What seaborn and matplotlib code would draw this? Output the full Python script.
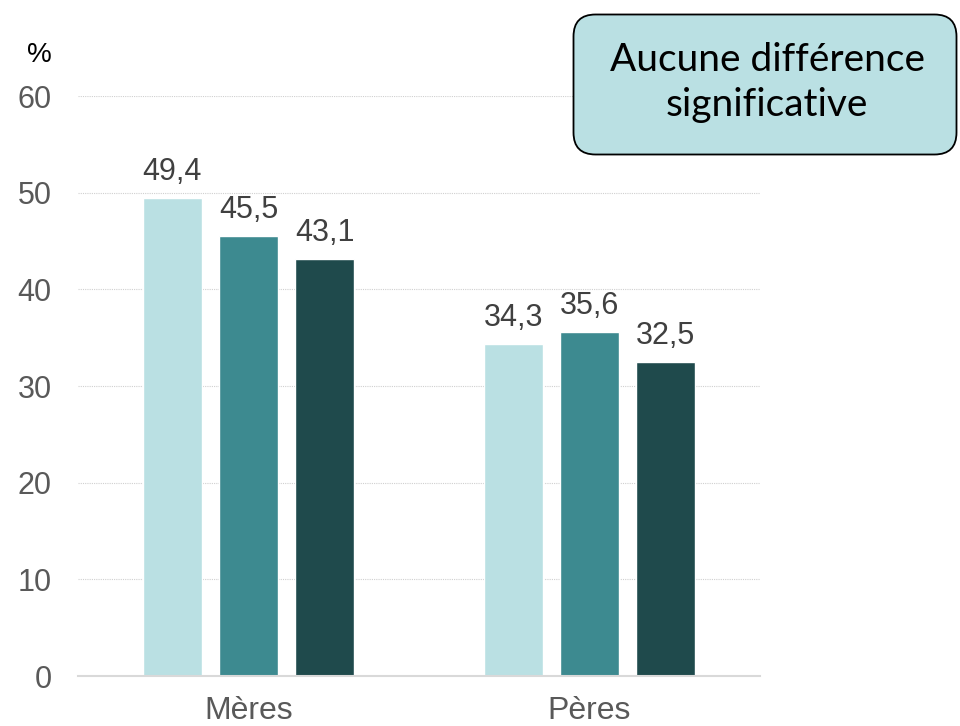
import matplotlib
matplotlib.use("Agg")
import matplotlib.pyplot as plt
from matplotlib.patches import FancyBboxPatch
import seaborn as sns
import pandas as pd

categories = ["Mères", "Pères"]
series = ["Série 1", "Série 2", "Série 3"]
values_s1 = [49.4, 34.3]
values_s2 = [45.5, 35.6]
values_s3 = [43.1, 32.5]
palette = ["#BAE0E3", "#3D8A90", "#1F4A4C"]
y_ticks = [0, 10, 20, 30, 40, 50, 60]
note_text = "Aucune différence\nsignificative"

rows = []
for s, vals in zip(series, [values_s1, values_s2, values_s3]):
    for c, v in zip(categories, vals):
        rows.append({"cat": c, "serie": s, "val": v})
df = pd.DataFrame(rows)

sns.set_theme(style="white")
plt.rcParams["font.family"] = ["Liberation Sans", "DejaVu Sans"]

fig = plt.figure(figsize=(9.6, 7.26), dpi=100)
ax = fig.add_axes([78/960, 1-676/726, (760-78)/960, (676-96)/726])

sns.barplot(data=df, x="cat", y="val", hue="serie", palette=palette,
            width=0.67, gap=0.22, ax=ax, legend=False, saturation=1,
            errorbar=None)

ax.set_ylim(0, 60)
ax.set_xlim(-0.5, 1.5)
ax.set_yticks(y_ticks)
ax.set_yticklabels([str(t) for t in y_ticks], fontsize=22, color="#595959")
ax.tick_params(axis="x", labelsize=23, labelcolor="#595959", length=0, pad=14.5)
ax.tick_params(axis="y", length=0, pad=19)
ax.set_xlabel("")
ax.set_ylabel("")
for t in y_ticks[1:]:
    ax.axhline(t, color="#D0D0D0", lw=0.8, ls=(0, (1, 1)), zorder=0)
for side in ["top", "right", "left"]:
    ax.spines[side].set_visible(False)
ax.spines["bottom"].set_color("#D9D9D9")
ax.spines["bottom"].set_linewidth(1.5)

for cont in ax.containers:
    labels = [f"{b.get_height():.1f}".replace(".", ",") for b in cont]
    ax.bar_label(cont, labels=labels, padding=8, fontsize=22, color="#404040")

fig.text(52/960, 1-55/726, "%", fontsize=20, color="black", ha="right", va="center")

# note box
bx0, by0, bw, bh = 572, 13, 386, 143
bax = fig.add_axes([bx0/960, 1-(by0+bh)/726, bw/960, bh/726])
bax.set_xlim(0, bw)
bax.set_ylim(0, bh)
bax.axis("off")
box = FancyBboxPatch((1.5, 1.5), bw-3, bh-3, boxstyle="round,pad=0,rounding_size=22",
                     facecolor="#BAE0E3", edgecolor="black", lw=1.3)
bax.add_patch(box)
bax.text(bw/2 + 2, bh/2 + 2, note_text, ha="center", va="center", fontsize=28,
         family=["Lato", "DejaVu Sans"], color="black", linespacing=1.3)

fig.savefig("out.png", dpi=100)
